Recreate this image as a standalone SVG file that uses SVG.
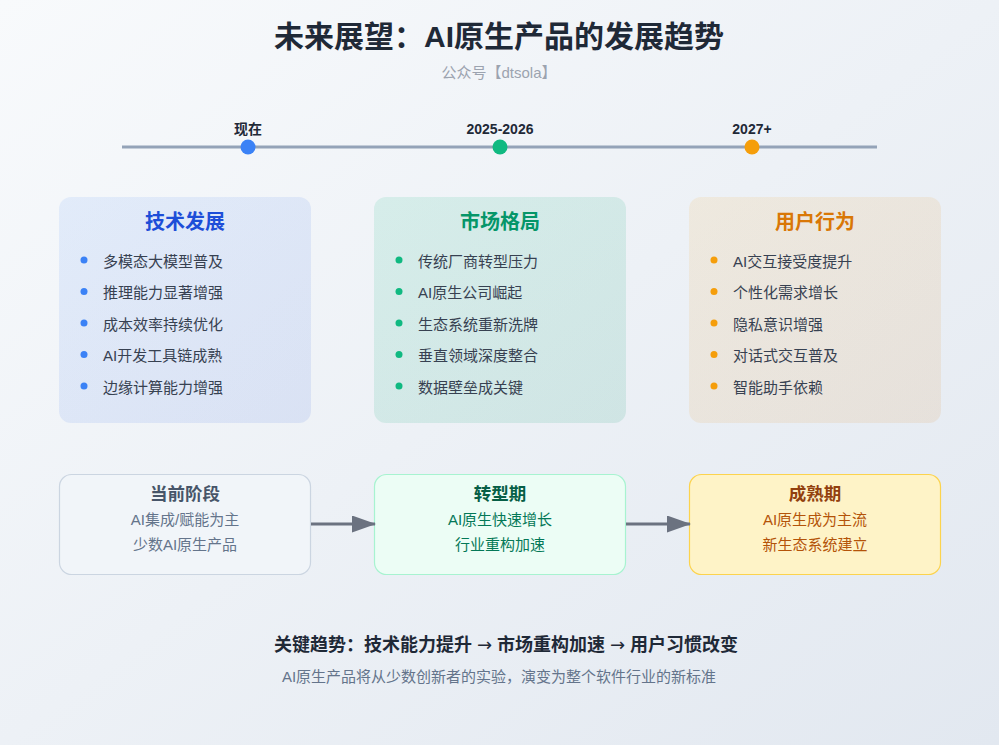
<svg xmlns="http://www.w3.org/2000/svg" width="999" height="745" viewBox="0 0 999 745">
<defs>
<linearGradient id="bg" x1="0" y1="0" x2="1" y2="1">
<stop offset="0" stop-color="#f8fafc"/>
<stop offset="1" stop-color="#e2e8f0"/>
</linearGradient>
<linearGradient id="g1" x1="0" y1="0" x2="1" y2="1">
<stop offset="0" stop-color="#3b82f6" stop-opacity="0.1"/>
<stop offset="1" stop-color="#1d4ed8" stop-opacity="0.1"/>
</linearGradient>
<linearGradient id="g2" x1="0" y1="0" x2="1" y2="1">
<stop offset="0" stop-color="#10b981" stop-opacity="0.12"/>
<stop offset="1" stop-color="#059669" stop-opacity="0.12"/>
</linearGradient>
<linearGradient id="g3" x1="0" y1="0" x2="1" y2="1">
<stop offset="0" stop-color="#f59e0b" stop-opacity="0.1"/>
<stop offset="1" stop-color="#d97706" stop-opacity="0.1"/>
</linearGradient>
<marker id="arr" markerWidth="24" markerHeight="17" refX="23" refY="8.5" orient="auto" markerUnits="userSpaceOnUse" viewBox="0 0 24 17">
<path d="M0,0 L24,8.5 L0,17 Z" fill="#6b7280"/>
</marker>
<style>
text{font-family:"Liberation Sans","Noto Sans CJK SC",sans-serif}
.title{font-size:30px;font-weight:bold;fill:#1f2937;text-anchor:middle}
.sub{font-size:15px;fill:#9ca3af;text-anchor:middle}
.tl{font-size:14px;font-weight:bold;fill:#1f2937;text-anchor:middle}
.ct{font-size:20px;font-weight:bold;text-anchor:middle}
.it{font-size:15px;fill:#374151}
.bt{font-size:17.5px;font-weight:bold;text-anchor:middle}
.bl{font-size:15px;text-anchor:middle}
.conn{stroke:#6b7280;stroke-width:3;fill:none}
.ar{font-family:"DejaVu Sans",sans-serif;font-weight:normal}
</style>
</defs>
<rect width="999" height="745" fill="url(#bg)"/>
<text class="title" x="499" y="47">未来展望：AI原生产品的发展趋势</text>
<text class="sub" x="499" y="78">公众号【dtsola】</text>

<g id="timeline">
<line x1="122" y1="147" x2="877" y2="147" stroke="#94a3b8" stroke-width="3"/>
<circle cx="248" cy="147" r="7.5" fill="#3b82f6"/>
<circle cx="500" cy="147" r="7.5" fill="#10b981"/>
<circle cx="752" cy="147" r="7.5" fill="#f59e0b"/>
<text class="tl" x="248" y="134">现在</text>
<text class="tl" x="500" y="134">2025-2026</text>
<text class="tl" x="752" y="134">2027+</text>
</g>

<g id="card-tech">
<rect x="59" y="197" width="252" height="226" rx="12" fill="url(#g1)"/>
<text class="ct" x="185" y="229" fill="#1d4ed8">技术发展</text>
<g fill="#3b82f6"><circle cx="84" cy="260" r="3.5"/><circle cx="84" cy="291.5" r="3.5"/><circle cx="84" cy="323" r="3.5"/><circle cx="84" cy="354.5" r="3.5"/><circle cx="84" cy="386" r="3.5"/></g>
<text class="it" x="103" y="266.5">多模态大模型普及</text>
<text class="it" x="103" y="298">推理能力显著增强</text>
<text class="it" x="103" y="329.5">成本效率持续优化</text>
<text class="it" x="103" y="361">AI开发工具链成熟</text>
<text class="it" x="103" y="392.5">边缘计算能力增强</text>
</g>

<g id="card-market">
<rect x="374" y="197" width="252" height="226" rx="12" fill="url(#g2)"/>
<text class="ct" x="500" y="229" fill="#059669">市场格局</text>
<g fill="#10b981"><circle cx="399" cy="260" r="3.5"/><circle cx="399" cy="291.5" r="3.5"/><circle cx="399" cy="323" r="3.5"/><circle cx="399" cy="354.5" r="3.5"/><circle cx="399" cy="386" r="3.5"/></g>
<text class="it" x="418" y="266.5">传统厂商转型压力</text>
<text class="it" x="418" y="298">AI原生公司崛起</text>
<text class="it" x="418" y="329.5">生态系统重新洗牌</text>
<text class="it" x="418" y="361">垂直领域深度整合</text>
<text class="it" x="418" y="392.5">数据壁垒成关键</text>
</g>

<g id="card-user">
<rect x="689" y="197" width="252" height="226" rx="12" fill="url(#g3)"/>
<text class="ct" x="815" y="229" fill="#d97706">用户行为</text>
<g fill="#f59e0b"><circle cx="714" cy="260" r="3.5"/><circle cx="714" cy="291.5" r="3.5"/><circle cx="714" cy="323" r="3.5"/><circle cx="714" cy="354.5" r="3.5"/><circle cx="714" cy="386" r="3.5"/></g>
<text class="it" x="733" y="266.5">AI交互接受度提升</text>
<text class="it" x="733" y="298">个性化需求增长</text>
<text class="it" x="733" y="329.5">隐私意识增强</text>
<text class="it" x="733" y="361">对话式交互普及</text>
<text class="it" x="733" y="392.5">智能助手依赖</text>
</g>

<g id="stage-current">
<rect x="59.5" y="474.5" width="251" height="100" rx="12" fill="#f1f5f9" stroke="#cbd5e1" stroke-width="1.2"/>
<text class="bt" x="185" y="499.5" fill="#475569">当前阶段</text>
<text class="bl" x="185" y="524.5" fill="#64748b">AI集成/赋能为主</text>
<text class="bl" x="185" y="550" fill="#64748b">少数AI原生产品</text>
</g>

<g id="stage-transition">
<rect x="374.5" y="474.5" width="251" height="100" rx="12" fill="#ecfdf5" stroke="#a7f3d0" stroke-width="1.2"/>
<text class="bt" x="500" y="499.5" fill="#065f46">转型期</text>
<text class="bl" x="500" y="524.5" fill="#047857">AI原生快速增长</text>
<text class="bl" x="500" y="550" fill="#047857">行业重构加速</text>
</g>

<g id="stage-mature">
<rect x="689.5" y="474.5" width="251" height="100" rx="12" fill="#fef3c7" stroke="#fcd34d" stroke-width="1.2"/>
<text class="bt" x="815" y="499.5" fill="#92400e">成熟期</text>
<text class="bl" x="815" y="524.5" fill="#b45309">AI原生成为主流</text>
<text class="bl" x="815" y="550" fill="#b45309">新生态系统建立</text>
</g>

<g id="connectors">
<line class="conn" x1="311" y1="524" x2="375" y2="524" marker-end="url(#arr)"/>
<line class="conn" x1="626" y1="524" x2="690" y2="524" marker-end="url(#arr)"/>
</g>

<text x="506" y="650.5" style="font-size:18px;font-weight:bold;fill:#1f2937;text-anchor:middle">关键趋势：技术能力提升 <tspan class="ar">→</tspan> 市场重构加速 <tspan class="ar">→</tspan> 用户习惯改变</text>
<text x="499" y="681.5" style="font-size:15px;fill:#64748b;text-anchor:middle">AI原生产品将从少数创新者的实验，演变为整个软件行业的新标准</text>
</svg>
